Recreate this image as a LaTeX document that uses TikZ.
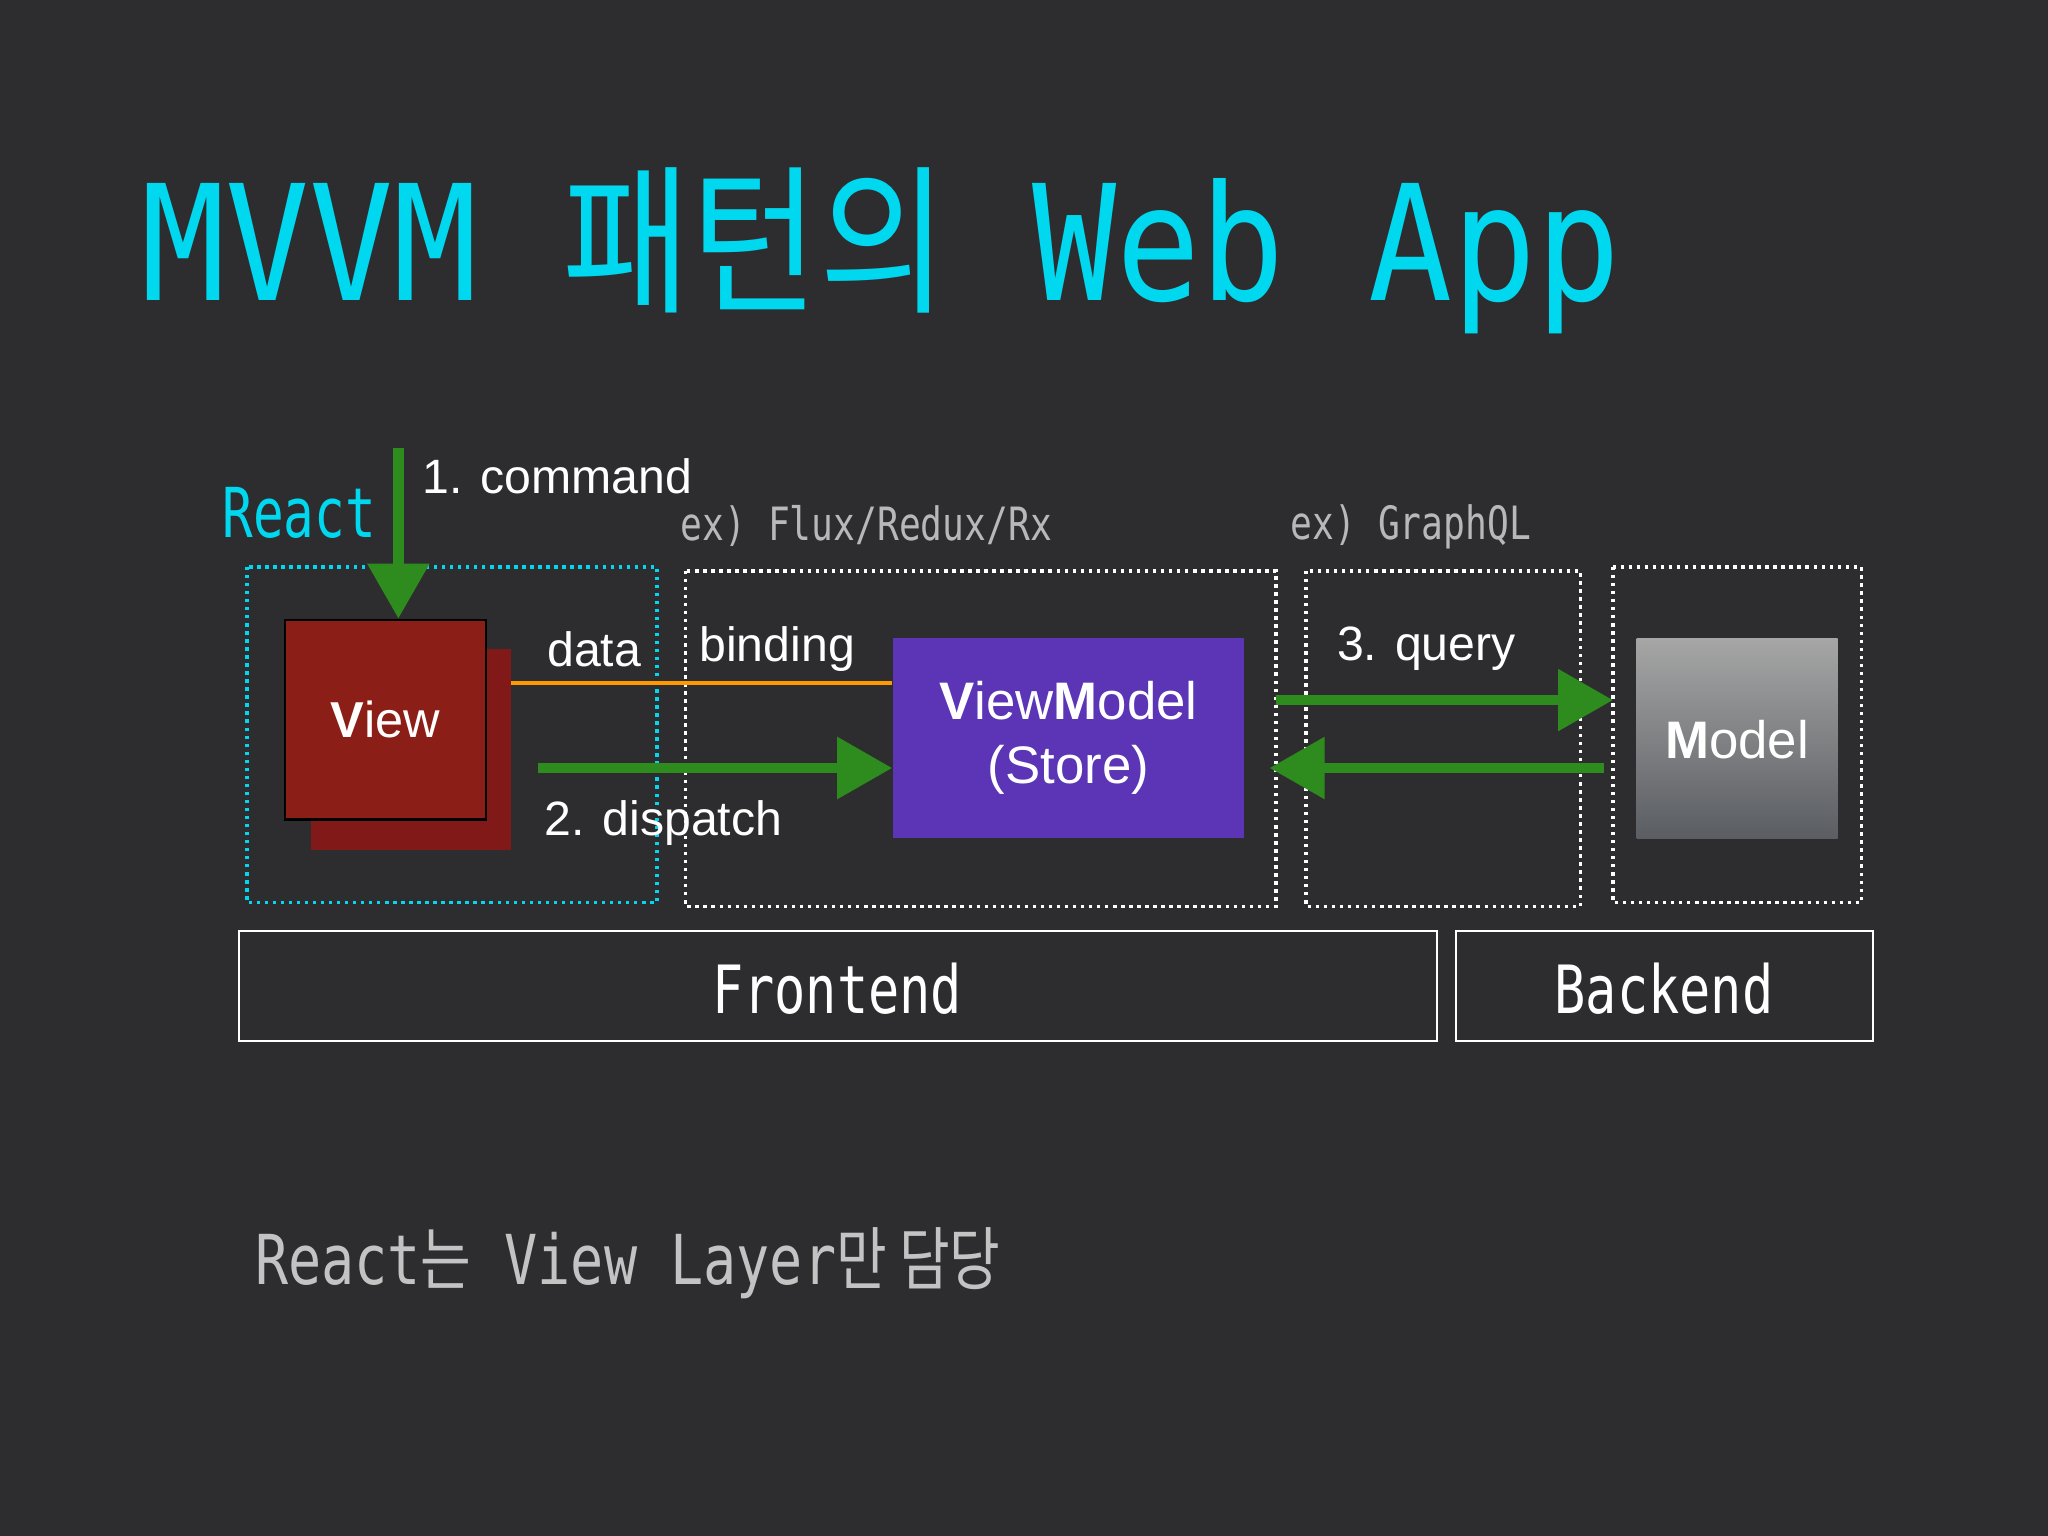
\documentclass[tikz,border=0pt]{standalone}
\usepackage{fontspec}
\setmainfont{Liberation Sans}
\newfontfamily\mono{DejaVu Sans Mono}
\newfontfamily\cjk{Noto Sans CJK KR}
\usetikzlibrary{arrows.meta}
\definecolor{bg}{HTML}{2D2D2F}
\definecolor{cy}{HTML}{00D8F0}
\definecolor{gr}{HTML}{2E8B1E}
\definecolor{tg}{HTML}{B8B8B8}
\begin{document}
\begin{tikzpicture}[x=0.02cm,y=-0.02cm,
  lab/.style={text=white,font=\fontsize{21}{25}\selectfont,inner sep=0},
  ex/.style={text=tg,font=\mono\fontsize{20}{24}\selectfont,inner sep=0,anchor=west,xscale=0.79},
  dot/.style={white,dotted,line width=1.5pt},
  garrow/.style={gr,line width=4.5pt,-{Triangle[length=24pt,width=26pt]}},
  box/.style={draw=white,line width=1pt},
  big/.style={text=white,font=\mono\fontsize{29}{32}\selectfont,xscale=0.78}]
\fill[bg] (0,0) rectangle (1568,1176);
\node[anchor=west,text=cy,inner sep=0,xscale=0.87] (title) at (108,192)
 {\mono\fontsize{70}{72}\selectfont MVVM {\cjk 패턴의} Web App};
\node[anchor=west,text=cy,inner sep=0,xscale=0.74,font=\mono\fontsize{30}{32}\selectfont] (react) at (170,393) {React};
\node[anchor=west,lab] (cmd) at (323,365) {1. command};
\node[ex] (ex1) at (521,403) {ex) Flux/Redux/Rx};
\node[ex] (ex2) at (988,403) {ex) GraphQL};
\draw[cy,dotted,line width=1.5pt] (189,434) rectangle (503,691);
\draw[dot] (525,437) rectangle (977,694);
\draw[dot] (1000,437) rectangle (1210,694);
\draw[dot] (1235,434) rectangle (1425,691);
\fill[red!45!black!90] (238,497) rectangle (391,651);
\node[draw=black,line width=1pt,fill={rgb,255:red,139;green,30;blue,22},minimum width=154*0.02cm,minimum height=153*0.02cm,text=white,font=\fontsize{22}{26}\selectfont] (view) at (295,551) {\textbf{V}iew};
\coordinate (cmdtop) at (305,343);
\draw[garrow] (cmdtop) -- (view.north -| cmdtop);
\node[lab] (data) at (455,497) {data};
\node[lab] (bind) at (595,497) {binding};
\node[fill={rgb,255:red,91;green,53;blue,181},minimum width=269*0.02cm,minimum height=153*0.02cm,text=white,font=\fontsize{23}{28}\selectfont,align=center] (vm) at (818,565) {\textbf{V}iew\textbf{M}odel\\(Store)};
\draw[orange!80!yellow,line width=1.5pt] (391,523) -- (vm.west |- 0,523);
\coordinate (d0) at (412,588);
\draw[garrow] (d0) -- (vm.west |- d0);
\node[lab] (disp) at (508,630) {2. dispatch};
\node[lab] (query) at (1092,497) {3. query};
\shade[top color=gray!70,bottom color={rgb,255:red,90;green,93;blue,98}] (1253,489) rectangle (1407,642);
\node[text=white,font=\fontsize{23}{26}\selectfont] (model) at (1330,566) {\textbf{M}odel};
\coordinate (q0) at (977,536); \coordinate (q1) at (1235,536);
\draw[garrow] (q0) -- (q1);
\coordinate (r0) at (1228,588); \coordinate (r1) at (972,588);
\draw[garrow] (r0) -- (r1);
\draw[box] (183,713) rectangle (1100,797);
\node[big] (fe) at (641,757) {Frontend};
\draw[box] (1115,713) rectangle (1434,797);
\node[big] (be) at (1274,757) {Backend};
\node[anchor=west,text=tg!85,inner sep=0,xscale=0.8,font=\mono\fontsize{30}{34}\selectfont] (bot) at (195,967) {React{\cjk 는} View Layer{\cjk 만 담당}};
\end{tikzpicture}
\end{document}
